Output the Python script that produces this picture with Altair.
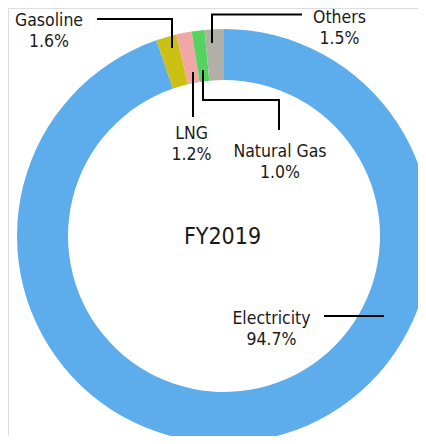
import altair as alt
import pandas as pd

# data
categories = ["Electricity", "Gasoline", "LNG", "Natural Gas", "Others"]
shares = [94.7, 1.6, 1.2, 1.0, 1.5]
colors = ["#5DADEC", "#CBC014", "#F2A7A7", "#55D35F", "#B0B0A9"]
center_title = "FY2019"

# layout (pixel positions in the view, not data)
W, H = 410, 428
CX, CY = 216, 228
R_OUT, R_IN = 207, 156
label_x = [263.5, 41, 183.5, 272, 331.5]
label_y = [316, 18, 131, 149, 14.5]
leaders = {
    "Electricity": [(316, 308), (376, 308)],
    "Gasoline": [(89, 11), (164, 11), (164, 40)],
    "LNG": [(185, 64), (185, 109)],
    "Natural Gas": [(195, 62), (195, 92), (271, 92), (271, 122)],
    "Others": [(294, 6.5), (204, 6.5), (204, 35)],
}

FONT = "DejaVu Sans Condensed"
TXT = "#1a1a1a"

df = pd.DataFrame({"cat": categories, "share": shares, "idx": list(range(len(categories)))})
df["pct"] = [f"{v:.1f}%" for v in shares]
df["lx"] = label_x
df["ly"] = label_y

rows = []
for c, pts in leaders.items():
    for i, (x, y) in enumerate(pts):
        rows.append({"cat": c, "i": i, "x": x, "y": y})
lines_df = pd.DataFrame(rows)

xs = alt.Scale(domain=[0, W], range=[0, W])
ys = alt.Scale(domain=[0, H], range=[0, H])

ring = alt.Chart(df).mark_arc(outerRadius=R_OUT, innerRadius=R_IN, strokeWidth=0).encode(
    theta=alt.Theta("share:Q", stack=True),
    order=alt.Order("idx:Q"),
    color=alt.Color("cat:N", scale=alt.Scale(domain=categories, range=colors), legend=None),
    x=alt.value(CX),
    y=alt.value(CY),
)

lead = alt.Chart(lines_df).mark_line(color="#000000", strokeWidth=2, strokeCap="butt", strokeJoin="miter").encode(
    x=alt.X("x:Q", scale=xs, axis=None),
    y=alt.Y("y:Q", scale=ys, axis=None),
    detail="cat:N",
    order="i:Q",
)

name_txt = alt.Chart(df).mark_text(font=FONT, fontSize=17.5, color=TXT, align="center", baseline="alphabetic").encode(
    x=alt.X("lx:Q", scale=xs, axis=None),
    y=alt.Y("ly:Q", scale=ys, axis=None),
    text="cat:N",
)
pct_txt = alt.Chart(df).mark_text(font=FONT, fontSize=17.5, color=TXT, align="center", baseline="alphabetic", dy=21).encode(
    x=alt.X("lx:Q", scale=xs, axis=None),
    y=alt.Y("ly:Q", scale=ys, axis=None),
    text="pct:N",
)

title_txt = alt.Chart(pd.DataFrame({"t": [center_title]})).mark_text(
    font=FONT, fontSize=23, color=TXT, align="center", baseline="alphabetic"
).encode(x=alt.value(CX - 1.5), y=alt.value(236), text="t:N")

chart = alt.layer(ring, lead, name_txt, pct_txt, title_txt).properties(
    width=W, height=H, padding=0, autosize=alt.AutoSizeParams(type="none")
).configure_view(strokeWidth=0, stroke="transparent").configure(background="white")

chart.save("out.html", embed_options={"renderer": "svg", "actions": False})
